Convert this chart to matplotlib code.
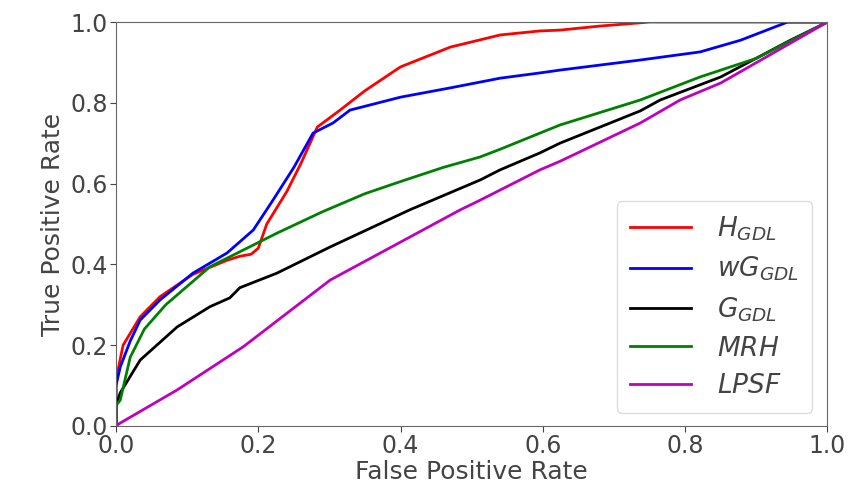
import matplotlib
matplotlib.use("Agg")
import matplotlib.pyplot as plt

# ROC curves
fpr_h = [0.0, 0.0, 0.003, 0.01, 0.034, 0.062, 0.108, 0.156, 0.174, 0.19, 0.2, 0.212, 0.24, 0.26,
         0.283, 0.315, 0.35, 0.4, 0.47, 0.54, 0.596, 0.624, 0.68, 0.75, 1.0]
tpr_h = [0.0, 0.10, 0.14, 0.20, 0.27, 0.32, 0.375, 0.41, 0.42, 0.425, 0.44, 0.50, 0.58, 0.65,
         0.74, 0.782, 0.83, 0.889, 0.938, 0.968, 0.978, 0.98, 0.99, 1.0, 1.0]

fpr_wg = [0.0, 0.0, 0.006, 0.02, 0.034, 0.062, 0.108, 0.156, 0.193, 0.221, 0.25, 0.277, 0.305,
          0.329, 0.4, 0.47, 0.54, 0.596, 0.624, 0.737, 0.821, 0.878, 0.944, 1.0]
tpr_wg = [0.0, 0.10, 0.146, 0.21, 0.262, 0.312, 0.378, 0.428, 0.485, 0.56, 0.64, 0.725, 0.75,
          0.782, 0.814, 0.837, 0.861, 0.874, 0.881, 0.906, 0.926, 0.955, 1.0, 1.0]

fpr_g = [0.0, 0.0, 0.006, 0.034, 0.086, 0.132, 0.16, 0.174, 0.226, 0.301, 0.413, 0.512, 0.54,
         0.596, 0.624, 0.737, 0.765, 0.85, 0.948, 1.0]
tpr_g = [0.0, 0.05, 0.082, 0.163, 0.245, 0.295, 0.317, 0.342, 0.378, 0.443, 0.535, 0.609, 0.634,
         0.676, 0.70, 0.78, 0.807, 0.864, 0.955, 1.0]

fpr_mrh = [0.0, 0.0, 0.006, 0.02, 0.04, 0.07, 0.132, 0.226, 0.29, 0.35, 0.4, 0.46, 0.512, 0.54,
           0.596, 0.624, 0.737, 0.821, 0.9, 1.0]
tpr_mrh = [0.0, 0.05, 0.064, 0.17, 0.24, 0.30, 0.394, 0.477, 0.53, 0.575, 0.605, 0.64, 0.666,
           0.685, 0.725, 0.745, 0.807, 0.864, 0.91, 1.0]

fpr_lpsf = [0.0, 0.006, 0.086, 0.179, 0.301, 0.484, 0.512, 0.596, 0.624, 0.737, 0.793, 0.85, 1.0]
tpr_lpsf = [0.0, 0.007, 0.089, 0.196, 0.361, 0.535, 0.559, 0.634, 0.655, 0.75, 0.807, 0.849, 1.0]

etiquetas = [r"$H_{GDL}$", r"$wG_{GDL}$", r"$G_{GDL}$", r"$MRH$", r"$LPSF$"]
colores = ["r", "b", "k", "g", "m"]

fig = plt.figure(figsize=(8.53, 5.01), dpi=100)
ax = fig.add_axes([0.136, 0.150, 0.834, 0.806])

curvas = [(fpr_h, tpr_h), (fpr_wg, tpr_wg), (fpr_g, tpr_g), (fpr_mrh, tpr_mrh), (fpr_lpsf, tpr_lpsf)]
for (x, y), etiqueta, color in zip(curvas, etiquetas, colores):
    ax.plot(x, y, color=color, lw=2, label=etiqueta)

ax.set_xlim(0, 1)
ax.set_ylim(0, 1)
ax.set_xticks([0.0, 0.2, 0.4, 0.6, 0.8, 1.0])
ax.set_yticks([0.0, 0.2, 0.4, 0.6, 0.8, 1.0])
ax.tick_params(labelsize=17, colors="#444444", length=4, pad=2)
ax.set_xlabel("False Positive Rate", fontsize=18, color="#444444", labelpad=1)
ax.set_ylabel("True Positive Rate", fontsize=18, color="#444444", labelpad=4)
for lado in ax.spines.values():
    lado.set_color("#666666")

ax.legend(loc="lower right", fontsize=19, handlelength=2.3, borderpad=0.5, labelspacing=0.45,
          handletextpad=1.0, framealpha=1, edgecolor="#dddddd", labelcolor="#444444",
          bbox_to_anchor=(0.997, 0.0))

fig.savefig("out.png", dpi=100)
